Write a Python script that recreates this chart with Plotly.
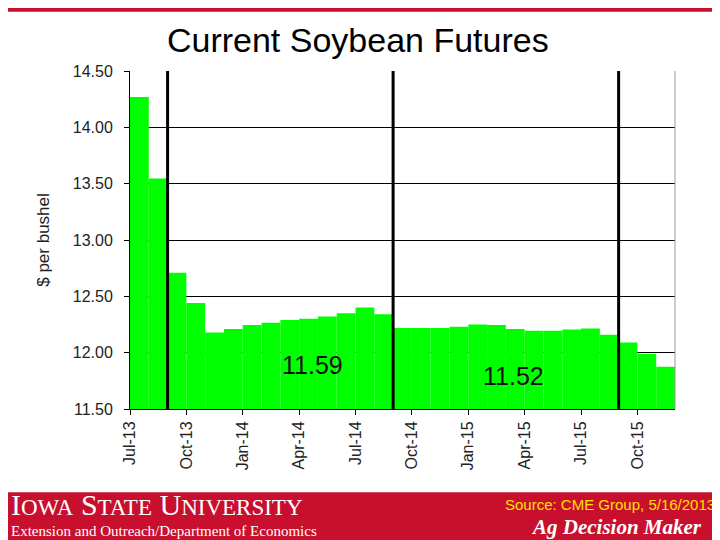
import plotly.graph_objects as go

months = ["Jul-13", "Aug-13", "Sep-13", "Oct-13", "Nov-13", "Dec-13",
          "Jan-14", "Feb-14", "Mar-14", "Apr-14", "May-14", "Jun-14",
          "Jul-14", "Aug-14", "Sep-14", "Oct-14", "Nov-14", "Dec-14",
          "Jan-15", "Feb-15", "Mar-15", "Apr-15", "May-15", "Jun-15",
          "Jul-15", "Aug-15", "Sep-15", "Oct-15", "Nov-15"]
prices = [14.27, 13.545, 12.71, 12.44, 12.18, 12.21,
          12.245, 12.265, 12.29, 12.30, 12.32, 12.35,
          12.40, 12.34, 12.22, 12.22, 12.22, 12.23,
          12.25, 12.245, 12.21, 12.195, 12.195, 12.205,
          12.215, 12.16, 12.09, 11.99, 11.875]
crop_year_breaks = [2, 14, 26]
crop_year_avgs = ["11.59", "11.52"]
avg_pos = [(9.7, 11.89), (20.4, 11.79)]

xs = list(range(len(months)))
tick_idx = list(range(0, len(months), 3))

fig = go.Figure(go.Bar(x=xs, y=prices, width=1, offset=0,
                       marker=dict(color="#00FF00", line=dict(width=0))))

for b in crop_year_breaks:
    fig.add_shape(type="line", x0=b, x1=b, y0=11.5, y1=14.5, yref="y", xref="x",
                  line=dict(color="black", width=3))
for txt, (px_, py_) in zip(crop_year_avgs, avg_pos):
    fig.add_annotation(x=px_, y=py_, text=txt, showarrow=False,
                       font=dict(size=25, color="#111"))

# header and footer bands
fig.add_shape(type="rect", xref="paper", yref="paper", x0=-0.25, x1=1.1,
              y0=-0.246, y1=-0.4, fillcolor="#C8102E", line=dict(width=0), layer="below")
fig.add_shape(type="rect", xref="paper", yref="paper", x0=-0.25, x1=1.1,
              y0=1.175, y1=1.25, fillcolor="#C8102E", line=dict(width=0), layer="below")
fig.add_annotation(xref="paper", yref="paper", x=-0.222, y=-0.283, xanchor="left",
                   yanchor="middle", showarrow=False,
                   text="I<span style='font-size:23px'>OWA</span> S<span style='font-size:23px'>TATE</span> U<span style='font-size:23px'>NIVERSITY</span>",
                   font=dict(family="Liberation Serif", size=30, color="white"))
fig.add_annotation(xref="paper", yref="paper", x=-0.222, y=-0.362, xanchor="left",
                   yanchor="middle", showarrow=False,
                   text="Extension and Outreach/Department of Economics",
                   font=dict(family="Liberation Serif", size=15, color="white"))
fig.add_annotation(xref="paper", yref="paper", x=1.077, y=-0.283, xanchor="right",
                   yanchor="middle", showarrow=False, text="Source: CME Group, 5/16/2013",
                   font=dict(family="Liberation Sans", size=15, color="#FFE000"))
fig.add_annotation(xref="paper", yref="paper", x=1.054, y=-0.35, xanchor="right",
                   yanchor="middle", showarrow=False, text="<i><b>Ag Decision Maker</b></i>",
                   font=dict(family="Liberation Serif", size=21, color="white"))

fig.update_layout(
    width=720, height=540, margin=dict(l=122, r=53, t=63, b=139),
    paper_bgcolor="white", plot_bgcolor="white", showlegend=False,
    title=dict(text="Current Soybean Futures", xref="paper", x=0.418, xanchor="center",
               y=0.941, yanchor="middle",
               font=dict(family="Liberation Sans", size=34, color="black")),
    font=dict(family="Liberation Sans", color="#222"),
    xaxis=dict(range=[0, len(months)], tickvals=tick_idx,
               ticktext=[months[i] for i in tick_idx], tickangle=-90,
               ticks="outside", ticklen=5, tickcolor="black", showgrid=False,
               showline=True, linecolor="black", tickfont=dict(size=16)),
    yaxis=dict(range=[11.5, 14.5], tickvals=[11.5 + i * 0.5 for i in range(7)],
               tickformat=".2f", ticks="outside", ticklen=5, tickcolor="black",
               gridcolor="black", gridwidth=1, showline=True, linecolor="black",
               tickfont=dict(size=16), ticklabelstandoff=8,
               title=dict(text="$ per bushel", font=dict(size=17), standoff=18)),
)
fig.add_shape(type="line", xref="paper", yref="paper", x0=1, x1=1, y0=0, y1=1,
              line=dict(color="#999", width=1))
fig.write_html("out.html")
